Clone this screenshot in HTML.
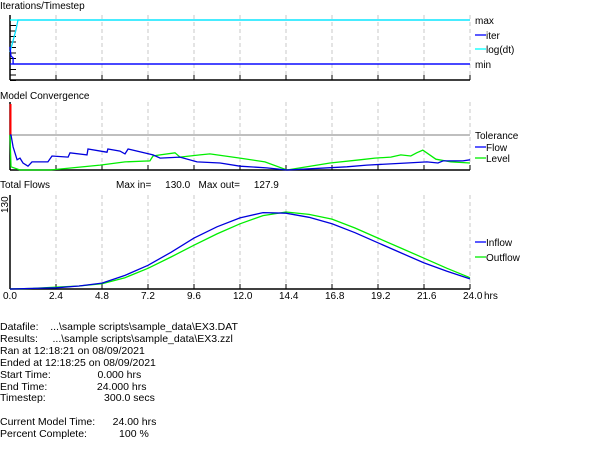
<!DOCTYPE html>
<html><head><meta charset="utf-8"><style>
body{margin:0;background:#fff;width:601px;height:465px;overflow:hidden}
svg{display:block}
text{font-family:"Liberation Sans",sans-serif;font-size:10px;fill:#000;white-space:pre}
.info{position:absolute;left:0;font:10.5px "Liberation Sans",sans-serif;white-space:pre}
</style></head><body>
<svg id="c" width="601" height="465">
<text x="0" y="9">Iterations/Timestep</text>
<text x="0" y="99">Model Convergence</text>
<text x="0" y="188">Total Flows</text>
<text x="116" y="188" xml:space="preserve">Max in=     130.0   Max out=     127.9</text>
<g id="g"></g>
</svg>
<div style="position:absolute;top:0;left:0">
<div class="info" style="top:321px">Datafile:    ...\sample scripts\sample_data\EX3.DAT</div>
<div class="info" style="top:333px">Results:     ...\sample scripts\sample_data\EX3.zzl</div>
<div class="info" style="top:345px">Ran at 12:18:21 on 08/09/2021</div>
<div class="info" style="top:357px">Ended at 12:18:25 on 08/09/2021</div>
<div class="info" style="top:369px">Start Time:                0.000 hrs</div>
<div class="info" style="top:381px">End Time:                 24.000 hrs</div>
<div class="info" style="top:392px">Timestep:                    300.0 secs</div>
<div class="info" style="top:416px">Current Model Time:      24.00 hrs</div>
<div class="info" style="top:428px">Percent Complete:           100 %</div>
</div>
<script>
const xTicks=["0.0","2.4","4.8","7.2","9.6","12.0","14.4","16.8","19.2","21.6","24.0"];
const flowHours=[0,1.2,2.4,3.6,4.8,6,7.2,8.4,9.6,10.8,12,13.2,14.4,15.6,16.8,18,19.2,20.4,21.6,22.8,24];
const inflow=[0,1,2,5,10,23,40,62,86,105,120,129,128,121,110,95,78,61,44,30,17];
const outflow=[0,1,3,5,9,19,35,54,74,93,110,124,130,126,118,103,86,69,52,35,19];
const flowHrs=[0,0.05,0.16,0.37,0.52,0.68,0.94,1.15,1.98,2.19,3.03,3.13,4.02,4.07,5.06,5.11,5.74,6.0,6.16,7.46,7.83,8.87,9.76,10.96,12.0,13.4,14.45,17.58,18.62,20.71,21.75,22.33,22.59,23.63,24];
const flowConv=[1,1,0.66,0.29,0.34,0.2,0.11,0.23,0.23,0.4,0.37,0.49,0.43,0.6,0.51,0.6,0.54,0.46,0.6,0.43,0.34,0.37,0.23,0.2,0.11,0.06,0,0.09,0.14,0.2,0.23,0.2,0.26,0.26,0.29];
const levelHrs=[0,0.05,0.52,2.09,4.7,6.0,7.3,7.46,7.83,8.61,8.87,9.91,10.43,12.0,13.3,14.45,15.13,16.7,18.26,19.04,19.87,20.39,20.91,21.22,21.54,22.22,23.0,24];
const levelConv=[1,0.09,0,0,0.14,0.23,0.26,0.4,0.43,0.49,0.37,0.43,0.46,0.34,0.23,0,0.06,0.2,0.29,0.34,0.37,0.43,0.4,0.49,0.57,0.31,0.23,0.2];
const iterHrs=[0,0.05,0.16,0.16,24];
const iterVals=[0.39,0.18,0.14,0,0];
const dtHrs=[0,0.1,0.31,0.42,24];
const dtVals=[0.27,0.43,0.77,1,1];
const NS="http://www.w3.org/2000/svg",g=document.getElementById('g');
const X=h=>10+h*460/24;
const Y1=v=>64-v*44, Y2=v=>170-v*35, Y3=v=>289-v*77/130;
function el(t,a){const e=document.createElementNS(NS,t);for(const k in a)e.setAttribute(k,a[k]);g.appendChild(e);return e;}
function poly(xs,ys,fy,col,name){const e=el('polyline',{points:xs.map((h,i)=>X(h).toFixed(1)+','+fy(ys[i]).toFixed(1)).join(' '),fill:'none',stroke:col,'stroke-width':1.3});

}
function panel(top,bot,p){
 for(let i=1;i<=10;i++){const x=X(i*2.4);const l=el('line',{x1:x,x2:x,y1:top,y2:bot,stroke:'#c8c8c8','stroke-dasharray':'4,3'});
 
 
 const t=el('line',{x1:x,x2:x,y1:bot-5,y2:bot,stroke:'#000'});
 
 }
 const a=el('line',{x1:10,x2:470,y1:bot,y2:bot,stroke:'#000','stroke-width':1.5});
 
 
 const b=el('line',{x1:10,x2:10,y1:top,y2:bot,stroke:'#000','stroke-width':1.5});
 
 }
panel(15,80,'iter');panel(102,170,'conv');panel(195,289,'flows');
for(let i=0;i<12;i++){const y=20+i*5.5;const t=el('line',{x1:10,x2:16,y1:y,y2:y,stroke:'#000'});

}
function hl(y,col,name){const l=el('line',{x1:10,x2:470,y1:y,y2:y,stroke:col,'stroke-width':1.3});

}
hl(Y1(1),'#00ffff','max-line');hl(Y1(0),'#0000ff','min-line');hl(Y2(1),'#999','tolerance-line');
poly(dtHrs,dtVals,Y1,'#00e0ff','logdt-series');
poly(iterHrs,iterVals,Y1,'#0000ff','iter-series');
const sp=el('line',{x1:10.5,x2:10.5,y1:104,y2:135,stroke:'#ff0000','stroke-width':2});


poly(levelHrs,levelConv,Y2,'#00ee00','level-series');
poly(flowHrs,flowConv,Y2,'#0000dd','flow-series');
poly(flowHours,outflow,Y3,'#00ee00','outflow-series');
poly(flowHours,inflow,Y3,'#0000dd','inflow-series');
xTicks.forEach((s,i)=>{const t=el('text',{x:X(i*2.4)-7,y:299});t.textContent=s;

});
const hr=el('text',{x:484,y:299});hr.textContent='hrs';


const yl=el('text',{x:0,y:0,transform:'translate(8,213) rotate(-90)','font-size':'8'});yl.textContent='130';


function leg(y,label,col,name){if(col){const l=el('line',{x1:475,x2:486,y1:y,y2:y,stroke:col,'stroke-width':1.3});

}
const t=el('text',{x:col?486:475,y:y+4});t.textContent=label;

}
leg(20,'max',null,'legend-max');leg(35,'iter','#0000ff','legend-iter');leg(49,'log(dt)','#00ffff','legend-logdt');leg(64,'min',null,'legend-min');
leg(135,'Tolerance',null,'legend-tolerance');leg(147,'Flow','#0000ff','legend-flow');leg(158,'Level','#00ee00','legend-level');
leg(242,'Inflow','#0000ff','legend-inflow');leg(257,'Outflow','#00ee00','legend-outflow');
</script>
</body></html>
